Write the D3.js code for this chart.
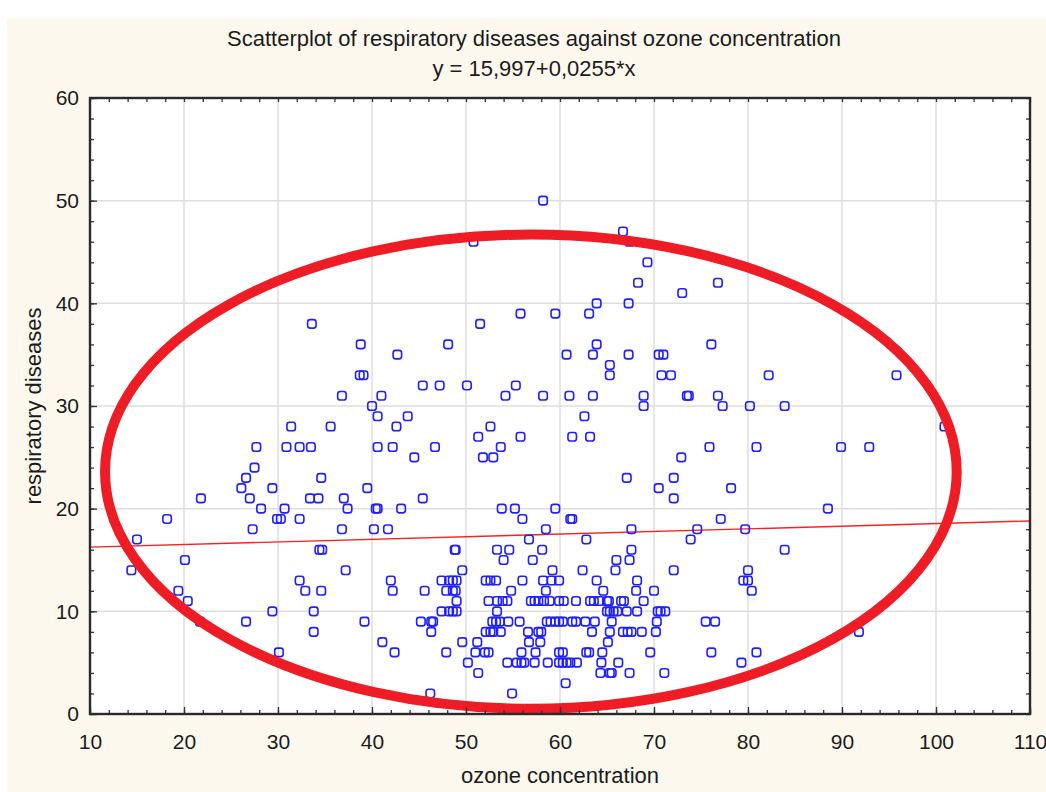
<!DOCTYPE html>
<html>
<head>
<meta charset="utf-8">
<script src="https://cdn.jsdelivr.net/npm/d3@7"></script>
<style>
  body { margin: 0; background: #fff; }
  text { font-family: "Liberation Sans", Arial, sans-serif; fill: #1b1b1b; }
</style>
</head>
<body>
<div id="chart"></div>
<script>
// ozone concentration (x) and respiratory diseases (y)
var ozone = [
  33.6, 31.4, 35.6, 27.7, 30.9, 32.3, 33.5,
  58.2, 50.8, 55.8, 59.5, 51.5, 38.8, 42.7, 48.1, 38.7, 39.1,
  36.8, 41.0, 40.0, 40.6, 45.4, 47.2, 50.1, 55.3, 54.2, 58.2,
  42.6, 43.8, 52.6, 51.3, 55.8,
  66.7, 67.4, 69.3, 68.3, 73.0, 76.8, 63.9, 67.3, 63.1,
  63.9, 60.7, 63.5, 67.3, 70.5, 71.0, 76.1, 65.3, 65.3, 70.8, 71.8, 82.2,
  61.0, 63.5, 68.9, 68.9, 73.5, 73.7, 76.8, 77.3, 80.2, 83.9,
  62.6, 61.3, 63.2, 75.9, 80.9, 95.8, 100.9, 89.9, 92.9,
  27.5, 26.6, 26.1, 29.4, 27.0, 21.8, 33.4, 34.3, 34.6,
  28.2, 30.7, 29.9, 30.3, 32.3, 18.2, 27.3, 15.0,
  34.4, 34.7, 20.1, 14.4, 19.4, 20.4, 21.7,
  32.3, 32.9, 34.6, 29.4, 33.8, 33.8, 26.6, 30.1,
  40.6, 42.2, 46.7, 53.7, 44.5, 51.8, 52.9, 39.5, 37.0, 45.4,
  37.4, 40.4, 40.6, 43.1, 53.8, 55.2, 59.5, 56.0,
  36.8, 40.2, 41.7, 58.5, 56.7,
  48.8, 48.9, 53.3, 54.6, 58.1, 54.0, 57.1,
  37.2, 49.6, 59.2, 42.0, 42.2, 45.6,
  47.4, 48.2, 48.6, 49.0, 47.9, 48.6, 48.9, 49.0,
  52.1, 52.6, 53.2, 56.0, 58.2, 59.1, 59.9, 54.8, 58.5,
  52.4, 53.3, 53.9, 54.4, 56.9, 57.3, 57.7, 58.3, 58.9, 59.9,
  47.4, 48.2, 48.6, 49.0, 53.3,
  39.2, 45.2, 46.3, 46.5, 52.8, 53.2, 53.6, 54.5, 55.7,
  58.6, 59.0, 59.5, 59.9,
  46.3, 52.1, 52.6, 52.9, 53.7, 56.6, 57.7, 58.0,
  41.1, 49.6, 51.2, 56.7, 57.9,
  42.4, 47.9, 51.0, 52.0, 52.4, 55.9, 57.4, 59.9,
  50.2, 54.4, 55.4, 55.9, 56.2, 57.3, 58.7, 59.9,
  51.3, 46.2, 54.9,
  72.9, 67.1, 72.1, 70.5, 78.2, 72.1,
  61.1, 61.3, 77.1, 67.6, 74.6, 79.7, 62.8, 73.9,
  67.6, 66.0, 67.4, 83.9, 62.4, 65.9, 72.1, 80.0,
  63.9, 68.2, 79.5, 80.0, 64.6, 68.1, 70.0, 80.4,
  60.4, 61.7, 63.2, 63.6, 64.2, 65.0, 65.2, 66.5, 66.8, 68.9,
  65.0, 65.3, 65.7, 66.1, 67.1, 68.2, 70.4, 70.7, 71.2,
  60.3, 61.3, 61.7, 62.7, 63.7, 65.5, 70.3, 75.5, 76.5,
  63.4, 65.3, 66.7, 67.2, 67.6, 68.7, 70.2, 65.1,
  60.3, 62.8, 63.1, 64.5, 69.6, 76.1, 80.9,
  60.3, 60.7, 61.1, 61.8, 64.4, 66.2, 79.3,
  64.3, 65.3, 65.5, 67.4, 71.1, 60.6, 88.5, 91.8
];
var diseases = [
  38, 28, 28, 26, 26, 26, 26,
  50, 46, 39, 39, 38, 36, 35, 36, 33, 33,
  31, 31, 30, 29, 32, 32, 32, 32, 31, 31,
  28, 29, 28, 27, 27,
  47, 46, 44, 42, 41, 42, 40, 40, 39,
  36, 35, 35, 35, 35, 35, 36, 34, 33, 33, 33, 33,
  31, 31, 31, 30, 31, 31, 31, 30, 30, 30,
  29, 27, 27, 26, 26, 33, 28, 26, 26,
  24, 23, 22, 22, 21, 21, 21, 21, 23,
  20, 20, 19, 19, 19, 19, 18, 17,
  16, 16, 15, 14, 12, 11, 9,
  13, 12, 12, 10, 10, 8, 9, 6,
  26, 26, 26, 26, 25, 25, 25, 22, 21, 21,
  20, 20, 20, 20, 20, 20, 20, 19,
  18, 18, 18, 18, 17,
  16, 16, 16, 16, 16, 15, 15,
  14, 14, 14, 13, 12, 12,
  13, 13, 13, 13, 12, 12, 12, 11,
  13, 13, 13, 13, 13, 13, 13, 12, 12,
  11, 11, 11, 11, 11, 11, 11, 11, 11, 11,
  10, 10, 10, 10, 10,
  9, 9, 9, 9, 9, 9, 9, 9, 9,
  9, 9, 9, 9,
  8, 8, 8, 8, 8, 8, 8, 8,
  7, 7, 7, 7, 7,
  6, 6, 6, 6, 6, 6, 6, 6,
  5, 5, 5, 5, 5, 5, 5, 5,
  4, 2, 2,
  25, 23, 23, 22, 22, 21,
  19, 19, 19, 18, 18, 18, 17, 17,
  16, 15, 15, 16, 14, 14, 14, 14,
  13, 13, 13, 13, 12, 12, 12, 12,
  11, 11, 11, 11, 11, 11, 11, 11, 11, 11,
  10, 10, 10, 10, 10, 10, 10, 10, 10,
  9, 9, 9, 9, 9, 9, 9, 9, 9,
  8, 8, 8, 8, 8, 8, 8, 7,
  6, 6, 6, 6, 6, 6, 6,
  5, 5, 5, 5, 5, 5, 5,
  4, 4, 4, 4, 4, 3, 20, 8
];

var xTicks = [10, 20, 30, 40, 50, 60, 70, 80, 90, 100, 110];
var yTicks = [0, 10, 20, 30, 40, 50, 60];

// fitted line y = a + b*x
var fitCoef = [15.997, 0.0255];
// hand-drawn red ellipse: centre x, centre y, radius x, radius y (data units)
var ellipseMark = [56.9, 23.6, 45.3, 23.1];

var titleLines = ['Scatterplot of respiratory diseases against ozone concentration',
                  'y = 15,997+0,0255*x'];

(function(d3) {
  'use strict';

  var width = 1046;
  var height = 792;
  var margin = { top: 98, right: 16, bottom: 78, left: 90 };
  var plotW = width - margin.left - margin.right;   // 940
  var plotH = height - margin.top - margin.bottom;  // 616

  var svg = d3.select('#chart')
    .append('svg')
    .attr('width', width)
    .attr('height', height);

  // cream window background
  svg.append('rect')
    .attr('x', 7).attr('y', 18)
    .attr('width', width - 7).attr('height', height - 18)
    .attr('fill', '#fdf8ee');

  var x = d3.scaleLinear().domain([10, 110]).range([0, plotW]);
  var y = d3.scaleLinear().domain([0, 60]).range([plotH, 0]);

  var g = svg.append('g')
    .attr('transform', 'translate(' + margin.left + ',' + margin.top + ')');

  g.append('rect')
    .attr('width', plotW).attr('height', plotH)
    .attr('fill', '#fff');

  // grid
  g.append('g').selectAll('line')
    .data(xTicks.slice(1, -1))
    .enter().append('line')
    .attr('x1', function(d){ return x(d); })
    .attr('x2', function(d){ return x(d); })
    .attr('y1', 0).attr('y2', plotH)
    .attr('stroke', '#dedede').attr('stroke-width', 1.5);

  g.append('g').selectAll('line')
    .data(yTicks.slice(1, -1))
    .enter().append('line')
    .attr('y1', function(d){ return y(d); })
    .attr('y2', function(d){ return y(d); })
    .attr('x1', 0).attr('x2', plotW)
    .attr('stroke', '#dedede').attr('stroke-width', 1.5);

  // regression line
  var fit = function(v){ return fitCoef[0] + fitCoef[1] * v; };
  var line = d3.line()
    .x(function(d){ return x(d); })
    .y(function(d){ return y(fit(d)); });

  g.append('path')
    .datum(x.domain())
    .attr('d', line)
    .attr('fill', 'none')
    .attr('stroke', '#ff1f1f')
    .attr('stroke-width', 1.4);

  // points
  var data = ozone.map(function(v, i){ return { x: v, y: diseases[i] }; });
  var size = 8.5;

  g.append('g').selectAll('rect')
    .data(data)
    .enter().append('rect')
    .attr('x', function(d){ return x(d.x) - size / 2; })
    .attr('y', function(d){ return y(d.y) - size / 2; })
    .attr('width', size).attr('height', size)
    .attr('rx', 2.6).attr('ry', 2.6)
    .attr('fill', 'none')
    .attr('stroke', '#1f1fff')
    .attr('stroke-width', 1.6);

  // red ellipse annotation
  g.append('ellipse')
    .attr('cx', x(ellipseMark[0]))
    .attr('cy', y(ellipseMark[1]))
    .attr('rx', x(ellipseMark[0] + ellipseMark[2]) - x(ellipseMark[0]))
    .attr('ry', y(0) - y(ellipseMark[3]))
    .attr('fill', 'none')
    .attr('stroke', '#ee1c25')
    .attr('stroke-width', 10);

  // axes with inward ticks, minor every 2 units
  var minorX = d3.range(10, 110.01, 2);
  var minorY = d3.range(0, 60.01, 2);

  function styleAxis(sel) {
    sel.select('.domain').remove();
    sel.selectAll('.tick line').attr('stroke', '#333').attr('stroke-width', 1.3);
  }

  g.append('g').attr('transform', 'translate(0,' + plotH + ')')
    .call(d3.axisBottom(x).tickValues(minorX).tickSize(-4).tickFormat(''))
    .call(styleAxis);
  g.append('g')
    .call(d3.axisTop(x).tickValues(minorX).tickSize(-4).tickFormat(''))
    .call(styleAxis);
  g.append('g')
    .call(d3.axisLeft(y).tickValues(minorY).tickSize(-4).tickFormat(''))
    .call(styleAxis);
  g.append('g').attr('transform', 'translate(' + plotW + ',0)')
    .call(d3.axisRight(y).tickValues(minorY).tickSize(-4).tickFormat(''))
    .call(styleAxis);

  var xAxis = g.append('g').attr('transform', 'translate(0,' + plotH + ')')
    .call(d3.axisBottom(x).tickValues(xTicks).tickSize(-7).tickPadding(20));
  styleAxis(xAxis);
  xAxis.selectAll('text')
    .style('font-size', '21px')
    .attr('fill', '#1b1b1b');

  var yAxis = g.append('g')
    .call(d3.axisLeft(y).tickValues(yTicks).tickSize(-7).tickPadding(11));
  styleAxis(yAxis);
  yAxis.selectAll('text')
    .style('font-size', '21px')
    .attr('fill', '#1b1b1b');

  // frame
  g.append('rect')
    .attr('width', plotW).attr('height', plotH)
    .attr('fill', 'none')
    .attr('stroke', '#2a2a2a')
    .attr('stroke-width', 2.4);

  // titles
  svg.selectAll('.title')
    .data(titleLines)
    .enter().append('text')
    .attr('class', 'title')
    .attr('x', 534)
    .attr('y', function(d, i){ return 46 + i * 30; })
    .attr('text-anchor', 'middle')
    .style('font-size', '22px')
    .text(function(d){ return d; });

  svg.append('text')
    .attr('x', margin.left + plotW / 2)
    .attr('y', 783)
    .attr('text-anchor', 'middle')
    .style('font-size', '22px')
    .text('ozone concentration');

  svg.append('text')
    .attr('transform', 'translate(41,' + (margin.top + plotH / 2) + ') rotate(-90)')
    .attr('text-anchor', 'middle')
    .style('font-size', '22px')
    .text('respiratory diseases');

})(window.d3);
</script>
</body>
</html>
